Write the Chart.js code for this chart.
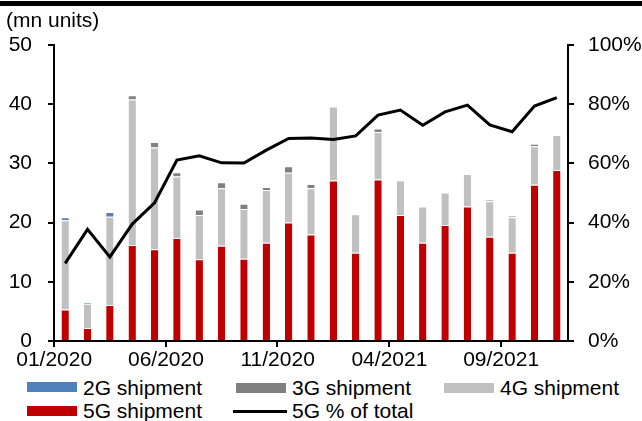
<!DOCTYPE html>
<html>
<head>
<meta charset="utf-8">
<script src="https://cdn.jsdelivr.net/npm/chart.js@4/dist/chart.umd.min.js"></script>
<style>
  body { margin: 0; background: #fff; font-family: "Liberation Sans", Arial, sans-serif; color: #000; }
  #pagina { position: relative; width: 642px; height: 421px; overflow: hidden; }
  #barraTop { position: absolute; left: 0; top: 1px; width: 642px; height: 5px; background: #000; }
  #titulo { position: absolute; left: 6px; top: 9px; font-size: 21px; line-height: 21px; }
  #grafica { position: absolute; left: 0; top: 0; }
  .ley { position: absolute; font-size: 21px; line-height: 21px; white-space: nowrap; }
  .caja { position: absolute; width: 50px; height: 10px; }
</style>
</head>
<body>
<div id="pagina">
  <div id="barraTop"></div>
  <canvas id="grafica" width="642" height="372"></canvas>
  <div id="titulo">(mn units)</div>

  <!-- leyenda -->
  <div class="caja" style="left:27px; top:382px; background:#4f81bd;"></div>
  <div class="ley" style="left:83px; top:377px;">2G shipment</div>
  <div class="caja" style="left:236px; top:383px; background:#808080;"></div>
  <div class="ley" style="left:292px; top:377px;">3G shipment</div>
  <div class="caja" style="left:444px; top:383px; background:#c0c0c0;"></div>
  <div class="ley" style="left:500px; top:377px;">4G shipment</div>
  <div class="caja" style="left:27px; top:406px; background:#c00000;"></div>
  <div class="ley" style="left:83px; top:400px;">5G shipment</div>
  <div style="position:absolute; left:233px; top:410px; width:54px; height:3px; background:#000;"></div>
  <div class="ley" style="left:292px; top:400px;">5G % of total</div>
</div>

<script>
const meses = ['01/2020', '02/2020', '03/2020', '04/2020', '05/2020', '06/2020', '07/2020', '08/2020',
  '09/2020', '10/2020', '11/2020', '12/2020', '01/2021', '02/2021', '03/2021', '04/2021',
  '05/2021', '06/2021', '07/2021', '08/2021', '09/2021', '10/2021', '11/2021'];

// millones de unidades
const envios5G = [5.3, 2.2, 6.1, 16.2, 15.5, 17.4, 13.8, 16.1, 13.9, 16.6, 20.0, 18.0,
  27.1, 14.9, 27.3, 21.3, 16.6, 19.6, 22.7, 17.6, 14.9, 26.4, 28.9];
const envios4G = [15.1, 4.1, 14.9, 24.6, 17.2, 10.4, 7.5, 9.7, 8.4, 8.9, 8.4, 7.8,
  12.5, 6.5, 8.0, 5.8, 6.1, 5.5, 5.5, 6.0, 6.0, 6.5, 5.9];
const envios3G = [0, 0, 0, 0.7, 0.9, 0.7, 0.9, 1.0, 0.9, 0.5, 1.1, 0.7,
  0, 0, 0.6, 0, 0, 0, 0, 0.3, 0.3, 0.4, 0];
const envios2G = [0.5, 0.2, 0.8, 0, 0, 0, 0, 0, 0, 0, 0, 0,
  0, 0, 0, 0, 0, 0, 0, 0, 0, 0, 0];

// 5G % del total
const porcentaje5G = [26.2, 37.7, 28.4, 39.5, 46.7, 61.1, 62.6, 60.2, 60.1, 64.5, 68.4, 68.6,
  68.1, 69.3, 76.3, 78.0, 72.9, 77.4, 79.7, 73.0, 70.7, 79.4, 82.2];

const ticksIzq = [0, 10, 20, 30, 40, 50];
const ticksDer = [0, 20, 40, 60, 80, 100];
const cadaCuantos = 5; // una etiqueta cada 5 meses

const fuente = { family: '"Liberation Sans", Arial, sans-serif', size: 21 };

function barra(label, datos, color) {
  return {
    type: 'bar',
    label: label,
    data: datos,
    backgroundColor: color,
    borderColor: '#ffffff',
    borderWidth: { top: 1, left: 0, right: 0, bottom: 0 },
    barPercentage: 0.33,
    categoryPercentage: 1,
    yAxisID: 'y',
    order: 1
  };
}

const ctx = document.getElementById('grafica').getContext('2d');

new Chart(ctx, {
  data: {
    labels: meses,
    datasets: [
      barra('5G shipment', envios5G, '#c00000'),
      barra('4G shipment', envios4G, '#c0c0c0'),
      barra('3G shipment', envios3G, '#808080'),
      barra('2G shipment', envios2G, '#4f81bd'),
      {
        type: 'line',
        label: '5G % of total',
        data: porcentaje5G,
        borderColor: '#000000',
        borderWidth: 3,
        pointRadius: 0,
        tension: 0,
        fill: false,
        yAxisID: 'y1',
        order: 0
      }
    ]
  },
  options: {
    responsive: false,
    animation: false,
    devicePixelRatio: 1,
    layout: { padding: { top: 45, left: 0, right: 0, bottom: 0 } },
    plugins: {
      legend: { display: false },
      tooltip: { enabled: false }
    },
    scales: {
      x: {
        stacked: true,
        offset: true,
        grid: {
          offset: true,
          drawOnChartArea: false,
          tickLength: 6,
          lineWidth: 2,
          tickColor: (c) => (c.index % cadaCuantos === 0 ? '#000' : 'rgba(0,0,0,0)')
        },
        border: { color: '#000', width: 2 },
        ticks: {
          autoSkip: false,
          maxRotation: 0,
          minRotation: 0,
          labelOffset: -11,
          padding: 1,
          color: '#000',
          font: fuente,
          callback: (v, i) => (i % cadaCuantos === 0 ? meses[i] : '')
        },
        afterFit: (s) => { s.height = 31; }
      },
      y: {
        stacked: true,
        position: 'left',
        min: ticksIzq[0],
        max: ticksIzq[ticksIzq.length - 1],
        grid: { drawOnChartArea: false, tickLength: 6, lineWidth: 2, color: '#000' },
        border: { color: '#000', width: 2 },
        ticks: { stepSize: 10, padding: 16, color: '#000', font: fuente },
        afterBuildTicks: (s) => { s.ticks = ticksIzq.map(v => ({ value: v })); },
        afterFit: (s) => { s.width = 54; }
      },
      y1: {
        position: 'right',
        min: ticksDer[0],
        max: ticksDer[ticksDer.length - 1],
        grid: { drawOnChartArea: false, tickLength: 6, lineWidth: 2, color: '#000' },
        border: { color: '#000', width: 2 },
        ticks: { stepSize: 20, padding: 14, color: '#000', font: fuente, callback: (v) => v + '%' },
        afterBuildTicks: (s) => { s.ticks = ticksDer.map(v => ({ value: v })); },
        afterFit: (s) => { s.width = 74; }
      }
    }
  }
});
</script>
</body>
</html>
